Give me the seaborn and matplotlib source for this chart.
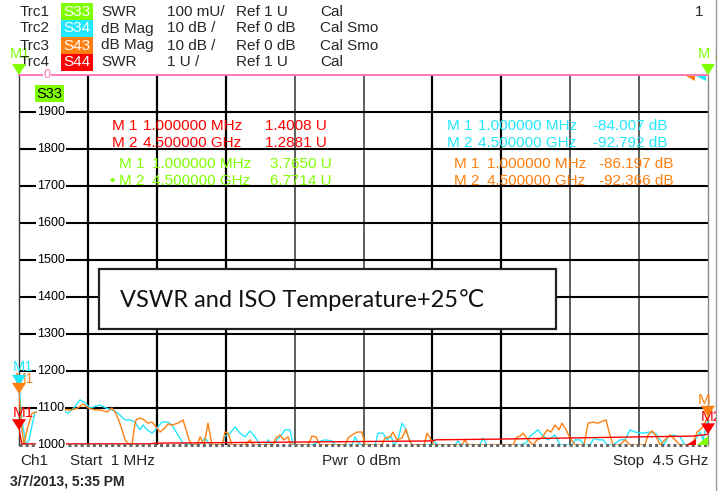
import numpy as np
import pandas as pd
import matplotlib
matplotlib.use("Agg")
import matplotlib.pyplot as plt
from matplotlib.patches import Rectangle, Polygon
from matplotlib.transforms import IdentityTransform, blended_transform_factory
import seaborn as sns

# ---------------- data ----------------
# Trc2 S34 (dB Mag, 10 dB/div, ref 0 dB at top)
s34_freq = [1, 20, 47, 66, 105, 151, 190, 236, 282, 321, 360, 399, 432, 465, 504, 530, 569, 608, 647,
            693, 726, 758, 791, 811, 837, 870, 902, 935, 974, 1000, 1039, 1072, 1118, 1183, 1216, 1248,
            1327, 1346, 1379, 1412, 1444, 1477, 1510, 1542, 1575, 1614, 1627, 1653, 1705, 1738, 1771,
            1790, 1914, 1953, 1999, 2045, 2065, 2176, 2195, 2215, 2234, 2326, 2345, 2378, 2404, 2430,
            2450, 2476, 2502, 2522, 2541, 2567, 2698, 2711, 2731, 2848, 2868, 2887, 3011, 3031, 3057,
            3273, 3312, 3338, 3390, 3416, 3455, 3501, 3534, 3612, 3632, 3664, 3697, 3730, 3756, 3782,
            3815, 3841, 3880, 3926, 3958, 3991, 4024, 4069, 4121, 4161, 4187, 4213, 4239, 4272, 4317,
            4350, 4383, 4415, 4448, 4468, 4500]
s34_db = [-84.0, -93.2, -100, -98.6, -91.1, -91.1, -90.5, -91.4, -90.5, -91.4, -90.0, -87.8, -88.6,
          -90.0, -89.5, -89.2, -90.0, -90.5, -91.4, -93.2, -93.2, -93.8, -95.9, -94.6, -95.9, -96.8,
          -95.4, -93.8, -93.8, -94.6, -97.3, -99.5, -100, -99.7, -98.1, -100, -100, -97.6, -96.8,
          -95.1, -96.8, -97.8, -96.2, -97.8, -100, -100, -98.6, -100, -97.8, -95.9, -95.9, -100,
          -100, -99.2, -98.6, -98.9, -100, -100, -97.8, -99.2, -100, -100, -96.8, -96.8, -98.6,
          -97.6, -100, -98.6, -94.1, -95.4, -97.6, -100, -100, -98.6, -100, -100, -98.9, -100, -100,
          -98.1, -100, -100, -99.5, -97.6, -95.9, -97.3, -98.6, -97.3, -100, -100, -98.6, -98.6,
          -100, -100, -98.1, -98.6, -98.6, -100, -100, -98.6, -98.6, -95.9, -96.5, -96.8, -96.5,
          -97.0, -98.6, -100, -97.8, -97.3, -97.8, -100, -100, -98.6, -96.5, -98.6, -92.8]

# Trc3 S43 (dB Mag, 10 dB/div, ref 0 dB at top)
s43_freq = [1, 20, 34, 53, 86, 138, 184, 236, 269, 308, 347, 386, 419, 452, 497, 530, 576, 608, 628,
            647, 674, 693, 713, 739, 752, 765, 791, 817, 843, 870, 902, 922, 954, 974, 1000, 1039,
            1072, 1092, 1111, 1131, 1163, 1183, 1209, 1235, 1261, 1327, 1346, 1366, 1392, 1477, 1510,
            1529, 1660, 1679, 1705, 1731, 1758, 1777, 1888, 1914, 1940, 1966, 2130, 2149, 2176, 2208,
            2241, 2260, 2371, 2391, 2424, 2443, 2469, 2502, 2528, 2548, 2567, 2646, 2665, 2692, 2711,
            2894, 2913, 2933, 3227, 3253, 3273, 3292, 3325, 3357, 3384, 3416, 3449, 3475, 3501, 3527,
            3547, 3573, 3599, 3632, 3690, 3717, 3749, 3782, 3815, 3834, 3854, 3880, 3926, 3958, 3991,
            4089, 4108, 4135, 4161, 4187, 4219, 4252, 4285, 4317, 4396, 4429, 4461, 4500]
s43_db = [-86.2, -95.9, -100, -95.9, -91.4, -90.8, -90.5, -89.5, -90.0, -90.5, -90.5, -90.0, -88.9,
          -90.0, -90.5, -90.5, -91.1, -90.0, -91.1, -92.7, -95.9, -98.6, -99.5, -100, -95.9, -93.2,
          -92.7, -93.2, -94.1, -93.8, -95.4, -96.5, -95.4, -94.3, -94.6, -94.1, -93.2, -95.9, -98.6,
          -100, -100, -97.8, -100, -94.1, -100, -100, -96.5, -96.8, -100, -100, -98.6, -100, -100,
          -98.1, -97.3, -98.6, -97.8, -100, -100, -97.6, -97.8, -100, -100, -98.1, -97.3, -96.5,
          -96.5, -100, -100, -98.1, -97.8, -96.5, -98.6, -98.1, -95.7, -98.6, -100, -100, -96.8,
          -98.6, -100, -100, -98.6, -100, -100, -97.8, -97.6, -96.8, -98.6, -100, -98.6, -98.1,
          -95.9, -96.5, -94.6, -95.9, -94.1, -95.9, -98.1, -100, -100, -94.1, -93.8, -94.1, -93.5,
          -93.2, -96.5, -100, -100, -98.6, -100, -100, -97.3, -96.2, -97.6, -100, -98.6, -97.3,
          -98.6, -100, -100, -96.5, -95.4, -92.4]

# Trc4 S44 (SWR, 1 U/div, ref 1 U at bottom)
s44_freq = [1, 20, 138, 856, 889, 1836, 2698, 2724, 3142, 3599, 4056, 4402, 4500]
s44_swr = [1.4008, 1.03, 1.03, 1.03, 1.05, 1.08, 1.11, 1.14, 1.16, 1.19, 1.22, 1.24, 1.2881]

y_ticks = [1000, 1100, 1200, 1300, 1400, 1500, 1600, 1700, 1800, 1900]

header_trc = ["Trc1", "Trc2", "Trc3", "Trc4"]
header_par = ["S33", "S34", "S43", "S44"]
header_fmt = ["SWR", "dB Mag", "dB Mag", "SWR"]
header_scale = ["100 mU/", "10 dB /", "10 dB /", "1 U /"]
header_ref = ["Ref 1 U", "Ref 0 dB", "Ref 0 dB", "Ref 1 U"]
header_cal = ["Cal", "Cal Smo", "Cal Smo", "Cal"]

# marker readouts
mk_freq = [1, 4500]
mk_freq_txt = ["1.000000 MHz", "4.500000 GHz"]
s44_mk = ["1.4008 U", "1.2881 U"]
s33_mk = ["3.7650 U", "6.7714 U"]
s34_mk = ["-84.007 dB", "-92.792 dB"]
s43_mk = ["-86.197 dB", "-92.366 dB"]
s33_mk_val = [3.7650, 6.7714]
s34_mk_val = [-84.007, -92.792]
s43_mk_val = [-86.197, -92.366]
s44_mk_val = [1.4008, 1.2881]

# ---------------- style ----------------
sns.set_style("white")
plt.rcParams["font.family"] = ["Liberation Sans", "DejaVu Sans"]

C_GREEN = "#80ff00"
C_CYAN = "#22e8ff"
C_ORANGE = "#ff8010"
C_RED = "#ff0000"
C_PINK = "#ff6fb4"

W, H = 725, 491
fig = plt.figure(figsize=(W / 100, H / 100), dpi=100)
fig.patch.set_facecolor("white")

L, R, T, B = 19, 708, 75, 445
ax = fig.add_axes([L / W, 1 - B / H, (R - L) / W, (B - T) / H])
ax.set_xlim(1, 4500)
ax.set_ylim(1000, 2000)


def disp_db(v):
    return 2000 + 10 * np.asarray(v, dtype=float)


def disp_swr(v):
    return 1000 + 100 * (np.asarray(v, dtype=float) - 1)


df = pd.concat([
    pd.DataFrame({"freq": s34_freq, "val": disp_db(s34_db), "trace": "S34"}),
    pd.DataFrame({"freq": s43_freq, "val": disp_db(s43_db), "trace": "S43"}),
    pd.DataFrame({"freq": s44_freq, "val": disp_swr(s44_swr), "trace": "S44"}),
], ignore_index=True)

# grid
xg = np.linspace(1, 4500, 11)
for i, x in enumerate(xg[1:-1], start=1):
    thick = i in (1, 2, 3, 6, 7)
    ax.axvline(x, color="black" if thick else "#333333", lw=1.6 if thick else 1.1, zorder=1)
for yv in y_ticks[1:]:
    ax.axhline(yv, color="black", lw=1.5, zorder=1)

palette = {"S34": C_CYAN, "S43": C_ORANGE, "S44": C_RED}
sns.lineplot(data=df, x="freq", y="val", hue="trace", palette=palette, ax=ax,
             legend=False, sort=False, estimator=None, linewidth=1.0, zorder=3)

ax.set_xticks([])
ax.set_yticks([])
ax.set_xlabel("")
ax.set_ylabel("")
ax.spines["left"].set_color("#333333")
ax.spines["left"].set_linewidth(1.0)
ax.spines["right"].set_color("#888888")
ax.spines["right"].set_linewidth(1.0)
ax.spines["top"].set_color(C_PINK)
ax.spines["top"].set_linewidth(1.3)
ax.spines["bottom"].set_visible(False)
ax.axhline(1000, color="#666666", lw=2.2, ls=(0, (1, 1)), zorder=4, clip_on=False)

# y tick labels drawn inside
btr = blended_transform_factory(ax.transAxes, ax.transData)
for yv in y_ticks:
    ax.text(32 / (R - L), yv, str(yv), transform=btr, ha="center", va="center",
            fontsize=9, color="black", zorder=5,
            bbox=dict(facecolor="white", edgecolor="none", pad=0.6))
ax.text(28 / (R - L), 2000, "0", transform=btr, ha="center", va="center",
        fontsize=9, color=C_PINK, zorder=5,
        bbox=dict(facecolor="white", edgecolor="none", pad=0.3))


def fx(x):
    return x / W


def fy(y):
    return 1 - y / H


# S33 label inside plot
fig.add_artist(Rectangle((fx(35), fy(102)), 29 / W, 17 / H, facecolor=C_GREEN,
                         edgecolor="none", transform=fig.transFigure, zorder=6))
fig.text(fx(49.5), fy(93.5), "S33", ha="center", va="center", fontsize=10.5, color="black", zorder=7)

# header
row_y = [11.5, 28.5, 45.5, 62.5]
box_col = [C_GREEN, C_CYAN, C_ORANGE, C_RED]
for i in range(4):
    yc = row_y[i]
    fig.add_artist(Rectangle((fx(61), fy(yc + 8.6)), 32 / W, 17.2 / H, facecolor=box_col[i],
                             edgecolor="none", transform=fig.transFigure, zorder=2))
    fig.text(fx(77), fy(yc), header_par[i], ha="center", va="center", fontsize=11, color="white", zorder=3)
    fig.text(fx(20), fy(yc), header_trc[i], ha="left", va="center", fontsize=11, zorder=4)
    fig.text(fx(101), fy(yc), header_fmt[i], ha="left", va="center", fontsize=11)
    fig.text(fx(167), fy(yc), header_scale[i], ha="left", va="center", fontsize=11)
    fig.text(fx(236), fy(yc), header_ref[i], ha="left", va="center", fontsize=11)
    fig.text(fx(320), fy(yc), header_cal[i], ha="left", va="center", fontsize=11)
fig.text(fx(703), fy(12), "1", ha="right", va="center", fontsize=11)


# marker readouts
def readout(x0, yc, lbl, ftxt, vtxt, col, dx_f, dx_v, dot=False):
    if dot:
        fig.text(fx(x0 - 10), fy(yc), "\u2022", ha="left", va="center", fontsize=11, color=col, zorder=8)
    fig.text(fx(x0), fy(yc), lbl, ha="left", va="center", fontsize=11, color=col, zorder=8)
    fig.text(fx(x0 + dx_f), fy(yc), ftxt, ha="left", va="center", fontsize=11, color=col, zorder=8)
    fig.text(fx(x0 + dx_v), fy(yc), vtxt, ha="left", va="center", fontsize=11, color=col, zorder=8)


for k in range(2):
    readout(112, 126 + 17 * k, f"M {k+1}", mk_freq_txt[k], s44_mk[k], C_RED, 31, 153)
    readout(119, 164 + 17 * k, f"M {k+1}", mk_freq_txt[k], s33_mk[k], C_GREEN, 33, 151, dot=(k == 1))
    readout(447, 126 + 17 * k, f"M {k+1}", mk_freq_txt[k], s34_mk[k], C_CYAN, 31, 146)
    readout(454, 164 + 17 * k, f"M {k+1}", mk_freq_txt[k], s43_mk[k], C_ORANGE, 33, 145)

# title box
fig.add_artist(Rectangle((fx(99), fy(329)), (556 - 99) / W, 60 / H, facecolor="white",
                         edgecolor="#222222", lw=1.6, transform=fig.transFigure, zorder=9))
fig.text(fx(120), fy(300), "VSWR and ISO Temperature+25\u2103", ha="left", va="center",
         fontsize=17, family=["Lato", "DejaVu Sans"], color="#111111", zorder=10)

# marker triangles (tip at marker position; clipped to display range)
fig.canvas.draw()


def tip_px(f, v):
    v = min(max(float(v), 1000), 2000)
    return ax.transData.transform((f, v))


def tri(px, py, col, w=14, h=11, z=11):
    fig.add_artist(Polygon([(px - w / 2, py + h), (px + w / 2, py + h), (px, py)], closed=True,
                           facecolor=col, edgecolor="none", transform=IdentityTransform(), zorder=z))


def mlabel(px, py, txt, col, z=10, fs=11):
    fig.text(px / W, py / H, txt, ha="center", va="center", fontsize=fs, color=col, zorder=z)


# green S33 markers pinned at top (values are above the display range)
for k in range(2):
    px, py = tip_px(mk_freq[k], 1000 + 1000 * s33_mk_val[k])
    mlabel(px + (1 if k == 0 else 2), py + 21, "M1" if k == 0 else "M 2", C_GREEN, z=1, fs=10.5)
    tri(px, py, C_GREEN)
# cyan / orange / red markers
px, py = tip_px(1, disp_db(s34_mk_val[0]))
mlabel(px + 4, py + 19, "M1", C_CYAN, fs=10.5)
tri(px, py, C_CYAN)
px, py = tip_px(1, disp_db(s43_mk_val[0]))
mlabel(px + 5, py + 15, "M1", C_ORANGE, z=10, fs=10)
tri(px, py, C_ORANGE, z=12)
px, py = tip_px(1, disp_swr(s44_mk_val[0]))
mlabel(px + 4, py + 17, "M1", C_RED)
tri(px, py, C_RED)
px, py = tip_px(4500, disp_db(s43_mk_val[1]))
mlabel(px + 3, py + 17, "M 2", C_ORANGE)
tri(px, py, C_ORANGE)
px, py = tip_px(4500, disp_swr(s44_mk_val[1]))
mlabel(px + 3, py + 17, "M2", C_RED)
tri(px, py, C_RED)


# small out-of-range indicators
def poly_px(pts, col):
    fig.add_artist(Polygon([(x, H - y) for x, y in pts], closed=True, facecolor=col,
                           edgecolor="none", transform=IdentityTransform(), zorder=12))


poly_px([(686, 76), (695, 76), (695, 81)], C_ORANGE)
poly_px([(696, 76), (706, 76), (706, 81)], C_CYAN)
poly_px([(686, 445), (696, 445), (696, 439)], C_RED)
poly_px([(697, 445), (708, 445), (708, 436)], C_GREEN)

# bottom info
fig.text(fx(20), fy(461), "Ch1", ha="left", va="center", fontsize=11)
fig.text(fx(70), fy(461), "Start  1 MHz", ha="left", va="center", fontsize=11)
fig.text(fx(322), fy(461), "Pwr  0 dBm", ha="left", va="center", fontsize=11)
fig.text(fx(708), fy(461), "Stop  4.5 GHz", ha="right", va="center", fontsize=11)
fig.text(fx(10), fy(481), "3/7/2013, 5:35 PM", ha="left", va="center", fontsize=10, weight="bold")

# right border of screenshot
fig.add_artist(Rectangle((fx(716), 0), 9 / W, 1, facecolor="white", edgecolor="none",
                         transform=fig.transFigure, zorder=20))
fig.add_artist(plt.Line2D([fx(715.5), fx(715.5)], [0, 1], color="#999999", lw=1.0,
                          transform=fig.transFigure, zorder=21))

fig.savefig("out.png", dpi=100)
